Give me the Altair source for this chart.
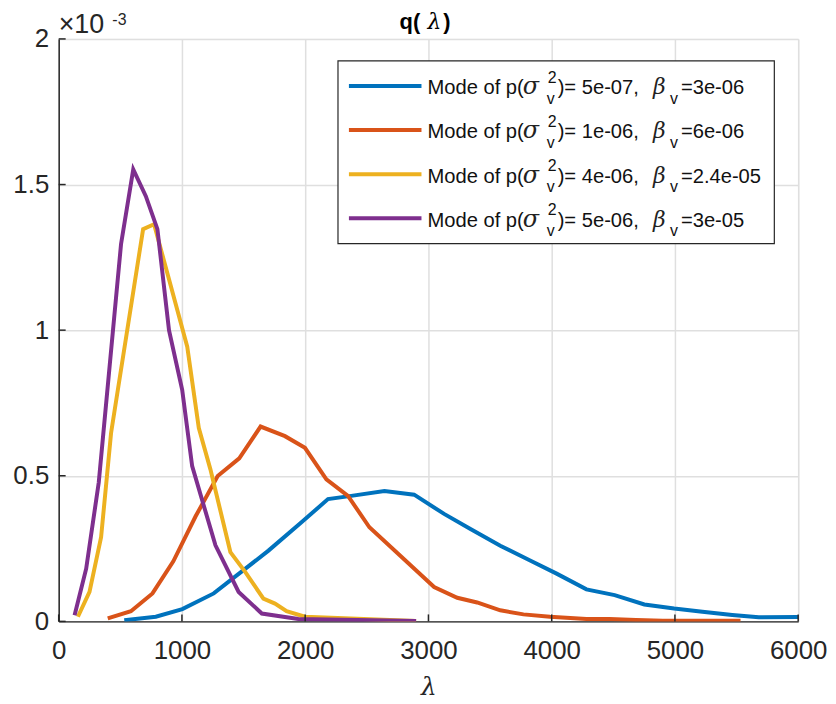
import altair as alt
import pandas as pd

# ---- data (y values in units of 1e-3) ----
blue_x = [532, 788, 1003, 1258, 1702, 1970, 2185, 2374, 2643, 2884, 3127, 3341, 3583,
          3825, 4040, 4282, 4511, 4752, 4994, 5223, 5465, 5680, 6000]
blue_y = [0.004, 0.016, 0.042, 0.096, 0.243, 0.340, 0.420, 0.431, 0.448, 0.435, 0.369,
          0.317, 0.260, 0.209, 0.164, 0.110, 0.090, 0.058, 0.044, 0.033, 0.022, 0.014, 0.015]

orange_x = [398, 586, 761, 930, 1110, 1290, 1465, 1638, 1836, 1998, 2172, 2347, 2521,
            3046, 3234, 3395, 3583, 3771, 3986, 4282, 4470, 4685, 4901, 5532]
orange_y = [0.010, 0.035, 0.096, 0.206, 0.360, 0.499, 0.560, 0.669, 0.636, 0.596, 0.488,
            0.431, 0.323, 0.118, 0.081, 0.065, 0.038, 0.024, 0.016, 0.008, 0.008, 0.005,
            0.002, 0.002]

yellow_x = [156, 250, 344, 425, 685, 774, 1043, 1137, 1231, 1393, 1513, 1661, 1755,
            1849, 1998, 2900]
yellow_y = [0.016, 0.101, 0.289, 0.647, 1.347, 1.364, 0.943, 0.664, 0.522, 0.238, 0.170,
            0.078, 0.061, 0.035, 0.016, 0.001]

purple_x = [129, 223, 325, 506, 605, 707, 801, 895, 1002, 1083, 1272, 1460, 1648, 1944, 2900]
purple_y = [0.021, 0.181, 0.477, 1.296, 1.552, 1.460, 1.347, 1.000, 0.795, 0.533, 0.261,
            0.101, 0.027, 0.008, 0.001]

p_modes = ["5e-07", "1e-06", "4e-06", "5e-06"]
betas = ["3e-06", "6e-06", "2.4e-05", "3e-05"]
colors = ["#0072BD", "#D95319", "#EDB120", "#7E2F8E"]

x_ticks = [0, 1000, 2000, 3000, 4000, 5000, 6000]
y_ticks = [0, 0.5, 1, 1.5, 2]

W, H = 744, 586
AX = "#262626"
GRID = "#dfdfdf"

xscale = alt.Scale(domain=[0, 6000], nice=False, zero=False)
yscale = alt.Scale(domain=[0, 2], nice=False)

x_axis = alt.Axis(values=x_ticks, format="d", grid=True, gridColor=GRID, gridWidth=1.5,
                  domainColor=AX, domainWidth=1.5, ticks=False,
                  labelFont="Liberation Sans", labelFontSize=26, labelColor=AX,
                  labelPadding=16, labelFlush=False,
                  title="λ", titleFont="DejaVu Serif", titleFontStyle="italic",
                  titleFontWeight="normal", titleFontSize=25, titleColor=AX,
                  titlePadding=12)
y_axis = alt.Axis(values=y_ticks, format="~g", grid=True, gridColor=GRID, gridWidth=1.5,
                  domainColor=AX, domainWidth=1.5, ticks=False,
                  labelFont="Liberation Sans", labelFontSize=26, labelColor=AX,
                  labelPadding=10, labelFlush=False, title=None)

series = [(blue_x, blue_y), (orange_x, orange_y), (yellow_x, yellow_y), (purple_x, purple_y)]

layers = []
for i, (xs, ys) in enumerate(series):
    d = pd.DataFrame({"x": xs, "y": ys})
    layers.append(
        alt.Chart(d).mark_line(strokeWidth=4, color=colors[i], clip=True).encode(
            x=alt.X("x:Q", scale=xscale, axis=x_axis),
            y=alt.Y("y:Q", scale=yscale, axis=y_axis),
        )
    )

# inward ticks (MATLAB style), sharing the same axes as the lines
xt = alt.Chart(pd.DataFrame({"x": x_ticks})).mark_rule(color=AX, strokeWidth=1.5).encode(
    x=alt.X("x:Q", scale=xscale, axis=x_axis), y=alt.value(H), y2=alt.value(H - 7))
yt = alt.Chart(pd.DataFrame({"y": y_ticks})).mark_rule(color=AX, strokeWidth=1.5).encode(
    y=alt.Y("y:Q", scale=yscale, axis=y_axis), x=alt.value(0), x2=alt.value(7))
layers += [xt, yt]

one = pd.DataFrame({"a": [0]})


def label(text, x, y, **kw):
    props = dict(align="left", baseline="alphabetic", color="#111111")
    props.update(kw)
    return alt.Chart(one).mark_text(text=text, **props).encode(x=alt.value(x), y=alt.value(y))


# exponent label
layers.append(label("×10", 0, -6, font="Liberation Sans", fontSize=27, color=AX))
layers.append(label("-3", 54, -14, font="Liberation Sans", fontSize=16, color=AX))

# title q(λ)
layers.append(label("q(", 343, -10, font="Liberation Sans", fontSize=22, fontWeight="bold",
                    color="#000000"))
layers.append(label("λ", 371, -10, font="DejaVu Serif", fontSize=22, fontStyle="italic",
                    color="#000000"))
layers.append(label(")", 387, -10, font="Liberation Sans", fontSize=22, fontWeight="bold",
                    color="#000000"))

# legend box
layers.append(alt.Chart(one).mark_rect(fill="white", stroke=AX, strokeWidth=1.2).encode(
    x=alt.value(281), x2=alt.value(720), y=alt.value(22), y2=alt.value(206)))

# legend rows
for i in range(4):
    r = 47.3 + 44.4 * i
    layers.append(alt.Chart(one).mark_rule(strokeWidth=4, color=colors[i]).encode(
        x=alt.value(292), x2=alt.value(365), y=alt.value(r)))
    layers.append(label("Mode of p(", 371, r + 8.4, font="Liberation Sans", fontSize=20.3))
    layers.append(label("σ", 467, r + 8.4, font="DejaVu Serif", fontSize=24,
                        fontStyle="italic", color="#222222"))
    layers.append(label("2", 492, r - 3.0, font="Liberation Sans", fontSize=16))
    layers.append(label("v", 491, r + 17.7, font="Liberation Sans", fontSize=16))
    layers.append(label(")= " + p_modes[i] + ", ", 502, r + 8.4, font="Liberation Sans",
                        fontSize=20.3))
    layers.append(label("β", 598, r + 8.4, font="DejaVu Serif", fontSize=22,
                        fontStyle="italic", color="#222222"))
    layers.append(label("v", 615, r + 17.7, font="Liberation Sans", fontSize=16))
    layers.append(label("=" + betas[i], 626, r + 8.4, font="Liberation Sans", fontSize=20.3))

chart = alt.layer(*layers).properties(
    width=W, height=H,
    autosize=alt.AutoSizeParams(type="none"),
    padding={"left": 51, "top": 29, "right": 30, "bottom": 80},
).configure_view(strokeWidth=0).configure(background="white")

chart.save("out.html", embed_options={"renderer": "svg", "actions": False})
